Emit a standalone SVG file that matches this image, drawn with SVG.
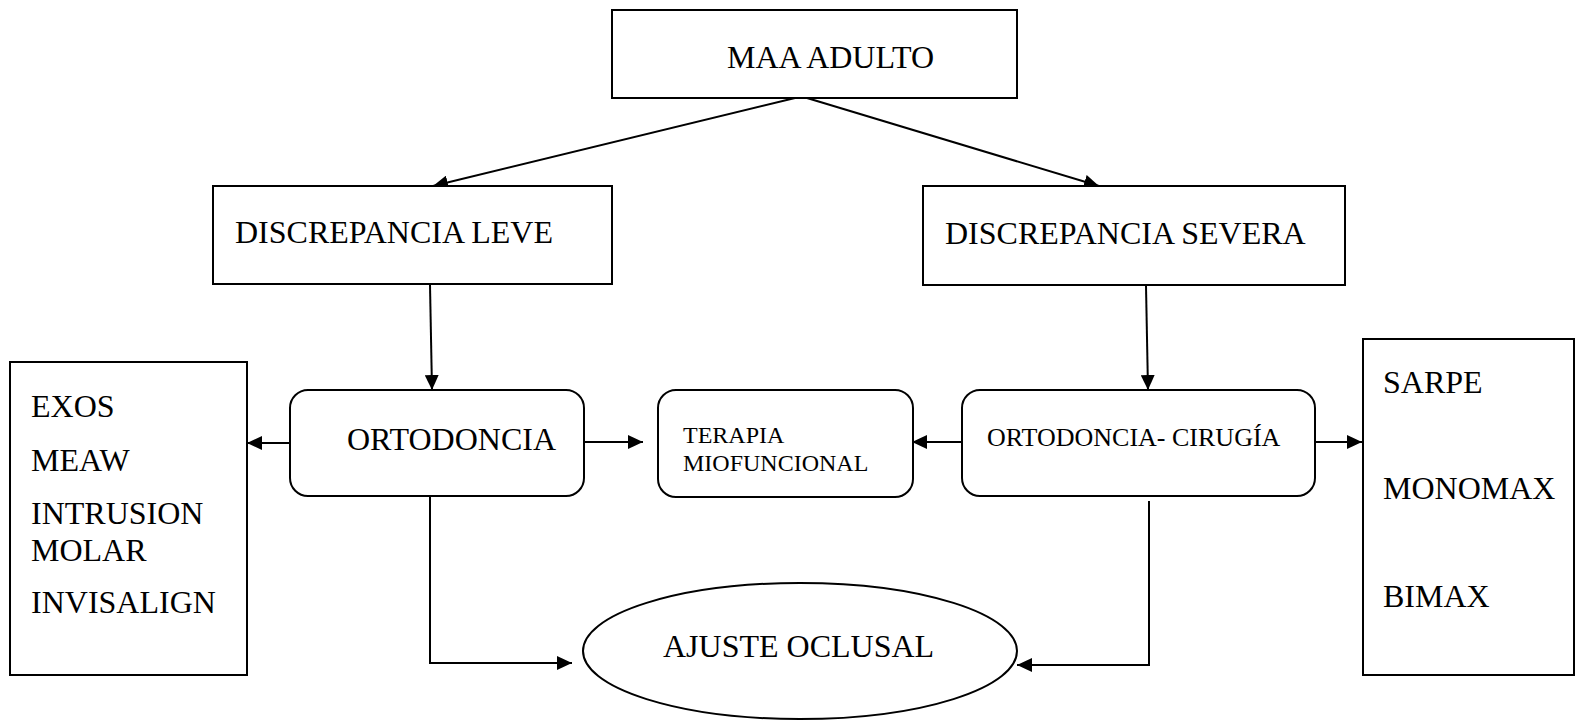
<svg xmlns="http://www.w3.org/2000/svg" width="1576" height="720" viewBox="0 0 1576 720">
  <style>
    .box { fill: #ffffff; stroke: #000000; stroke-width: 2; }
    .lbl { font-family: "Liberation Serif", "Times New Roman", serif; fill: #000000; }
    .big { font-size: 32px; }
    .mid { font-size: 26px; }
    .sml { font-size: 24px; }
    .link { fill: none; stroke: #000000; stroke-width: 2; }
  </style>
  <defs>
    <marker id="arrow" markerUnits="userSpaceOnUse" markerWidth="16" markerHeight="14" refX="15" refY="7" orient="auto">
      <path d="M0,0 L15,7 L0,14 Z" fill="#000000"/>
    </marker>
  </defs>
  <rect width="1576" height="720" fill="#ffffff"/>

  <g id="connectors">
    <line class="link" x1="795" y1="98" x2="433" y2="186" marker-end="url(#arrow)"/>
    <line class="link" x1="807" y1="98" x2="1099" y2="186" marker-end="url(#arrow)"/>
    <line class="link" x1="430" y1="285" x2="432" y2="390" marker-end="url(#arrow)"/>
    <line class="link" x1="1146" y1="286" x2="1148" y2="390" marker-end="url(#arrow)"/>
    <line class="link" x1="290" y1="443" x2="247" y2="443" marker-end="url(#arrow)"/>
    <line class="link" x1="584" y1="442" x2="643" y2="442" marker-end="url(#arrow)"/>
    <line class="link" x1="962" y1="442" x2="912" y2="442" marker-end="url(#arrow)"/>
    <line class="link" x1="1315" y1="442" x2="1362" y2="442" marker-end="url(#arrow)"/>
    <polyline class="link" points="430,497 430,663 572,663" marker-end="url(#arrow)"/>
    <polyline class="link" points="1149,501 1149,665 1017,665" marker-end="url(#arrow)"/>
  </g>

  <g id="maa-adulto">
    <rect class="box" x="612" y="10" width="405" height="88"/>
    <text class="lbl big" x="727" y="68">MAA ADULTO</text>
  </g>

  <g id="discrepancia-leve">
    <rect class="box" x="213" y="186" width="399" height="98"/>
    <text class="lbl big" x="235" y="243">DISCREPANCIA LEVE</text>
  </g>

  <g id="discrepancia-severa">
    <rect class="box" x="923" y="186" width="422" height="99"/>
    <text class="lbl big" x="945" y="244">DISCREPANCIA SEVERA</text>
  </g>

  <g id="ortodoncia">
    <rect class="box" x="290" y="390" width="294" height="106" rx="18" ry="18"/>
    <text class="lbl big" x="347" y="450">ORTODONCIA</text>
  </g>

  <g id="terapia-miofuncional">
    <rect class="box" x="658" y="390" width="255" height="107" rx="18" ry="18"/>
    <text class="lbl sml" x="683" y="443">TERAPIA</text>
    <text class="lbl sml" x="683" y="471">MIOFUNCIONAL</text>
  </g>

  <g id="ortodoncia-cirugia">
    <rect class="box" x="962" y="390" width="353" height="106" rx="18" ry="18"/>
    <text class="lbl mid" x="987" y="446">ORTODONCIA- CIRUGÍA</text>
  </g>

  <g id="tecnicas-ortodoncia">
    <rect class="box" x="10" y="362" width="237" height="313"/>
    <text class="lbl big" x="31" y="417">EXOS</text>
    <text class="lbl big" x="31" y="471">MEAW</text>
    <text class="lbl big" x="31" y="524">INTRUSION</text>
    <text class="lbl big" x="31" y="561">MOLAR</text>
    <text class="lbl big" x="31" y="613">INVISALIGN</text>
  </g>

  <g id="tecnicas-cirugia">
    <rect class="box" x="1363" y="339" width="211" height="336"/>
    <text class="lbl big" x="1383" y="393">SARPE</text>
    <text class="lbl big" x="1383" y="499">MONOMAX</text>
    <text class="lbl big" x="1383" y="607">BIMAX</text>
  </g>

  <g id="ajuste-oclusal">
    <ellipse class="box" cx="800" cy="651" rx="217" ry="68"/>
    <text class="lbl big" x="663" y="657">AJUSTE OCLUSAL</text>
  </g>
</svg>
